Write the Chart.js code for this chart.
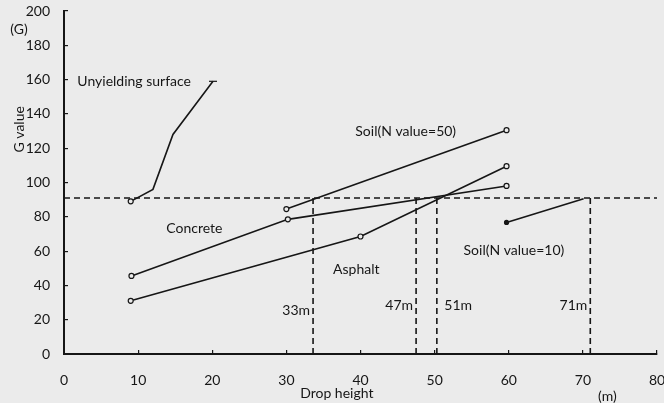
<!DOCTYPE html>
<html>
<head>
<meta charset="utf-8">
<script src="https://cdn.jsdelivr.net/npm/chart.js@4.4.1/dist/chart.umd.min.js"></script>
<style>
  html, body { margin: 0; padding: 0; background: #ebebeb; }
  #chart { display: block; }
</style>
</head>
<body>
<canvas id="chart" width="664" height="403"></canvas>
<script>
// values (drop height in m, G value)
const unyieldingX = [9, 12, 14.7, 20.1];
const unyieldingY = [89, 96, 128, 159];
const concreteX = [9.1, 30.2, 59.7];
const concreteY = [45.5, 78.5, 98];
const asphaltX = [9, 40, 59.7];
const asphaltY = [31, 68.5, 109.5];
const soil50X = [30, 59.7];
const soil50Y = [84.5, 130.5];
const soil10X = [59.7, 70.1];
const soil10Y = [76.7, 90.5];

const limitG = 91;                      // horizontal dashed line
const limitHeights = [33.6, 47.5, 50.3, 71];  // vertical dashed lines
const limitLabels = ["33m", "47m", "51m", "71m"];

const xTicksMax = 80;
const yTicksMax = 200;

const INK = "#161616";
const FONT = "Lato, 'DejaVu Sans', sans-serif";

function pts(xs, ys) {
    return xs.map((x, i) => ({ x: x, y: ys[i] }));
}

function curve(label, xs, ys, styles, radii, fills) {
    return {
        label: label,
        data: pts(xs, ys),
        showLine: true,
        borderColor: INK,
        borderWidth: 1.6,
        pointStyle: styles,
        pointRadius: radii,
        pointBorderWidth: 1.2,
        pointBorderColor: INK,
        pointBackgroundColor: fills,
        tension: 0
    };
}

function dashed(label, data) {
    return {
        label: label,
        data: data,
        showLine: true,
        borderColor: INK,
        borderWidth: 1.6,
        borderDash: [6, 4],
        pointRadius: 0,
        tension: 0
    };
}

const datasets = [
    curve("Unyielding surface", unyieldingX, unyieldingY,
        ["circle", "circle", "circle", "line"], [2.5, 0, 0, 4], "#ebebeb"),
    curve("Concrete", concreteX, concreteY, "circle", 2.5, "#ebebeb"),
    curve("Asphalt", asphaltX, asphaltY, "circle", 2.5, "#ebebeb"),
    curve("Soil(N value=50)", soil50X, soil50Y, "circle", 2.5, "#ebebeb"),
    curve("Soil(N value=10)", soil10X, soil10Y, "circle", [2, 0], INK),
    dashed("limit", [{ x: 0, y: limitG }, { x: xTicksMax, y: limitG }])
];
limitHeights.forEach((h, i) => {
    datasets.push(dashed(limitLabels[i], [{ x: h, y: 0 }, { x: h, y: limitG }]));
});

// text placed on the plot, anchored in data units
const notes = [
    { text: "Unyielding surface", x: 1.8, y: 159, align: "left" },
    { text: "Soil(N value=50)", x: 39.3, y: 130, align: "left" },
    { text: "Concrete", x: 13.8, y: 73, align: "left" },
    { text: "Asphalt", x: 36.3, y: 49, align: "left" },
    { text: "Soil(N value=10)", x: 53.9, y: 60.5, align: "left" },
    { text: "33m", x: 33.2, y: 25.5, align: "right" },
    { text: "47m", x: 47.1, y: 28, align: "right" },
    { text: "51m", x: 51.3, y: 28, align: "left" },
    { text: "71m", x: 70.6, y: 28, align: "right" }
];

const notesPlugin = {
    id: "notes",
    afterDatasetsDraw(chart) {
        const ctx = chart.ctx;
        const xs = chart.scales.x, ys = chart.scales.y;
        ctx.save();
        ctx.fillStyle = INK;
        ctx.font = "14px " + FONT;
        ctx.textBaseline = "middle";
        notes.forEach(n => {
            ctx.textAlign = n.align;
            ctx.fillText(n.text, xs.getPixelForValue(n.x), ys.getPixelForValue(n.y));
        });
        // axis captions
        ctx.textAlign = "center";
        ctx.fillText("Drop height", xs.getPixelForValue(36.8), 393);
        ctx.fillText("(m)", xs.getPixelForValue(73.3), 396);
        ctx.fillText("(G)", 19, ys.getPixelForValue(189.5));
        ctx.translate(19, ys.getPixelForValue(131));
        ctx.rotate(-Math.PI / 2);
        ctx.fillText("G value", 0, 0);
        ctx.restore();
    }
};

new Chart(document.getElementById("chart"), {
    type: "scatter",
    data: { datasets: datasets },
    options: {
        responsive: false,
        animation: false,
        layout: { padding: { top: 11, right: 7, left: 0, bottom: 0 } },
        plugins: {
            legend: { display: false },
            tooltip: { enabled: false }
        },
        scales: {
            x: {
                type: "linear",
                min: 0,
                max: xTicksMax,
                afterFit: s => {
                    s.height = 49;
                    s.paddingLeft = 0;
                    s.paddingRight = 0;
                },
                ticks: {
                    stepSize: 10,
                    color: INK,
                    font: { family: FONT, size: 14 },
                    padding: 22,
                    maxRotation: 0
                },
                grid: { drawOnChartArea: false, tickLength: -4, color: INK, lineWidth: 1.2 },
                border: { color: INK, width: 2 }
            },
            y: {
                type: "linear",
                min: 0,
                max: yTicksMax,
                afterFit: s => {
                    s.width = 64;
                    s.paddingTop = 0;
                    s.paddingBottom = 0;
                },
                ticks: {
                    stepSize: 20,
                    color: INK,
                    font: { family: FONT, size: 14 },
                    padding: 18
                },
                grid: { drawOnChartArea: false, tickLength: -4, color: INK, lineWidth: 1.2 },
                border: { color: INK, width: 2 }
            }
        }
    },
    plugins: [notesPlugin]
});
</script>
</body>
</html>
